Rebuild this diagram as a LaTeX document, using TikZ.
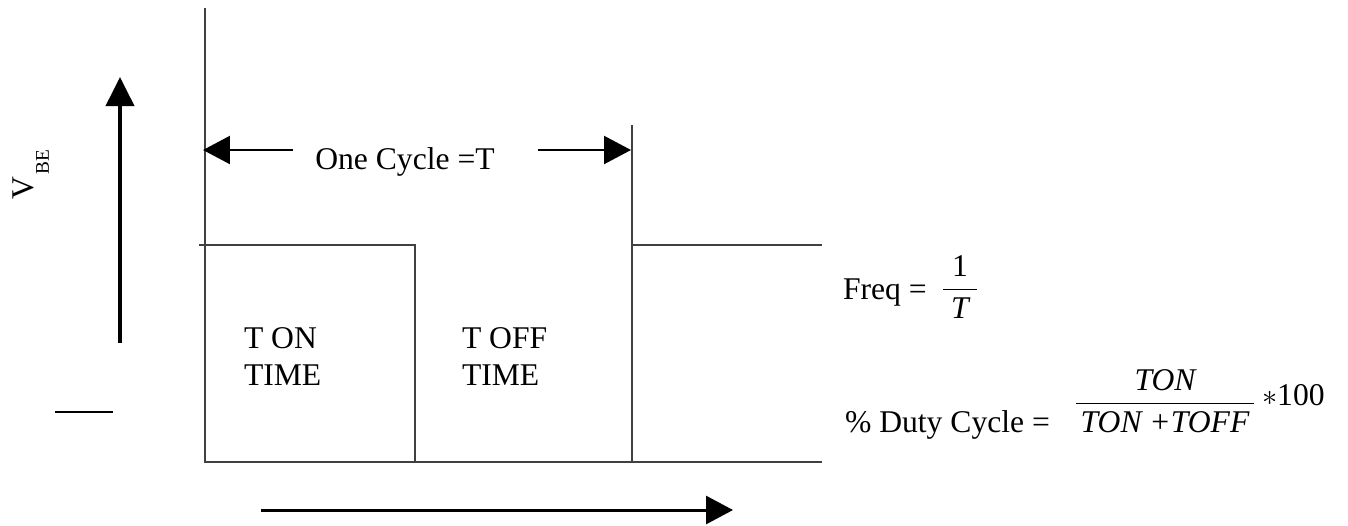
\documentclass[tikz,border=0pt]{standalone}
\usepackage{amsmath}
\usepackage{fontspec}
\setmainfont{Liberation Serif}
\usetikzlibrary{arrows.meta}
\usetikzlibrary{positioning}
\tikzset{
	wave/.style={black!75, line width=0.9pt},
	vertarrow/.style={-{Triangle[width=5.6mm, length=5.8mm]}, black, line width=2.2pt},
	dimarrow/.style={-{Triangle[width=5.6mm, length=5.4mm]}, black, line width=1.3pt},
	timearrow/.style={-{Triangle[width=5.6mm, length=5.4mm]}, black, line width=1.7pt},
	txt/.style={font=\fontsize{18}{21}\selectfont, inner sep=0pt, outer sep=0pt},
	fracnode/.style={font=\fontsize{18}{21}\selectfont, inner sep=0pt, outer sep=0pt},
}

\begin{document}
\begin{tikzpicture}[x=0.02cm, y=-0.02cm, line cap=butt, line join=miter]
		\useasboundingbox (0,0) rectangle (1348,525);
		
		% ---- Waveform corners ----
		\coordinate (topL) at (205,8);
		\coordinate (botL) at (205,462);
		\coordinate (hiL) at (199,245);
		\coordinate (hiM) at (415,245);
		\coordinate (loM) at (415,462);
		\coordinate (topR) at (632,125);
		\coordinate (loR) at (632,462);
		\coordinate (hiR) at (632,245);
		\coordinate (hiEnd) at (822,245);
		\coordinate (loEnd) at (822,462);
		
		% ---- Pulse train ----
		\draw[wave] (topL) -- (botL) -- (loEnd);
		\draw[wave] (hiL) -- (hiM) -- (loM);
		\draw[wave] (topR) -- (loR);
		\draw[wave] (hiR) -- (hiEnd);
		
		% ---- One cycle span ----
		\node[txt, anchor=base] (cycle) at (405,169) {One Cycle =T};
		\coordinate (cycL) at (293,150);
		\coordinate (cycLtip) at (203,150);
		\coordinate (cycR) at (538,150);
		\coordinate (cycRtip) at (631,150);
		\draw[dimarrow] (cycL) -- (cycLtip);
		\draw[dimarrow] (cycR) -- (cycRtip);
		
		% ---- On / off labels ----
		\node[txt, anchor=base west] (ton1) at (244,348) {T ON};
		\node[txt, anchor=base west] (ton2) at (244,385) {TIME};
		\node[txt, anchor=base west] (toff1) at (462,348) {T OFF};
		\node[txt, anchor=base west] (toff2) at (462,385) {TIME};
		
		% ---- Voltage axis ----
		\coordinate (vBot) at (120,343);
		\coordinate (vTop) at (120,77);
		\draw[vertarrow] (vBot) -- (vTop);
		\node[txt, rotate=90, anchor=base west] (vbe) at (33,199)
			{V\raisebox{-0.5em}{\fontsize{11}{12}\selectfont\kern1pt BE}};
		\coordinate (zeroA) at (55,412);
		\coordinate (zeroB) at (113,412);
		\draw[wave, black] (zeroA) -- (zeroB);
		
		% ---- Time axis ----
		\coordinate (tStart) at (261,510);
		\coordinate (tEnd) at (733,510);
		\draw[timearrow] (tStart) -- (tEnd);
		
		% ---- Formulas ----
		\node[txt, anchor=base west] (freq) at (843,299) {Freq =};
		\node[fracnode] (freqfrac) at (960,287)
			{$\dfrac{\mbox{1}}{\mbox{\hspace{0.25em}\itshape T\hspace{0.25em}}}$};
		\node[txt, anchor=base west] (duty) at (845,432) {\% Duty Cycle =};
		\node[fracnode] (dutyfrac) at (1165,401)
			{$\dfrac{\mbox{\itshape TON}}{\mbox{\hspace{0.15em}\itshape TON\ +TOFF\hspace{0.15em}}}$};
		\node[txt, anchor=base west] (times) at (1262,405) {$\ast$100};
		
	\end{tikzpicture}
\end{document}
